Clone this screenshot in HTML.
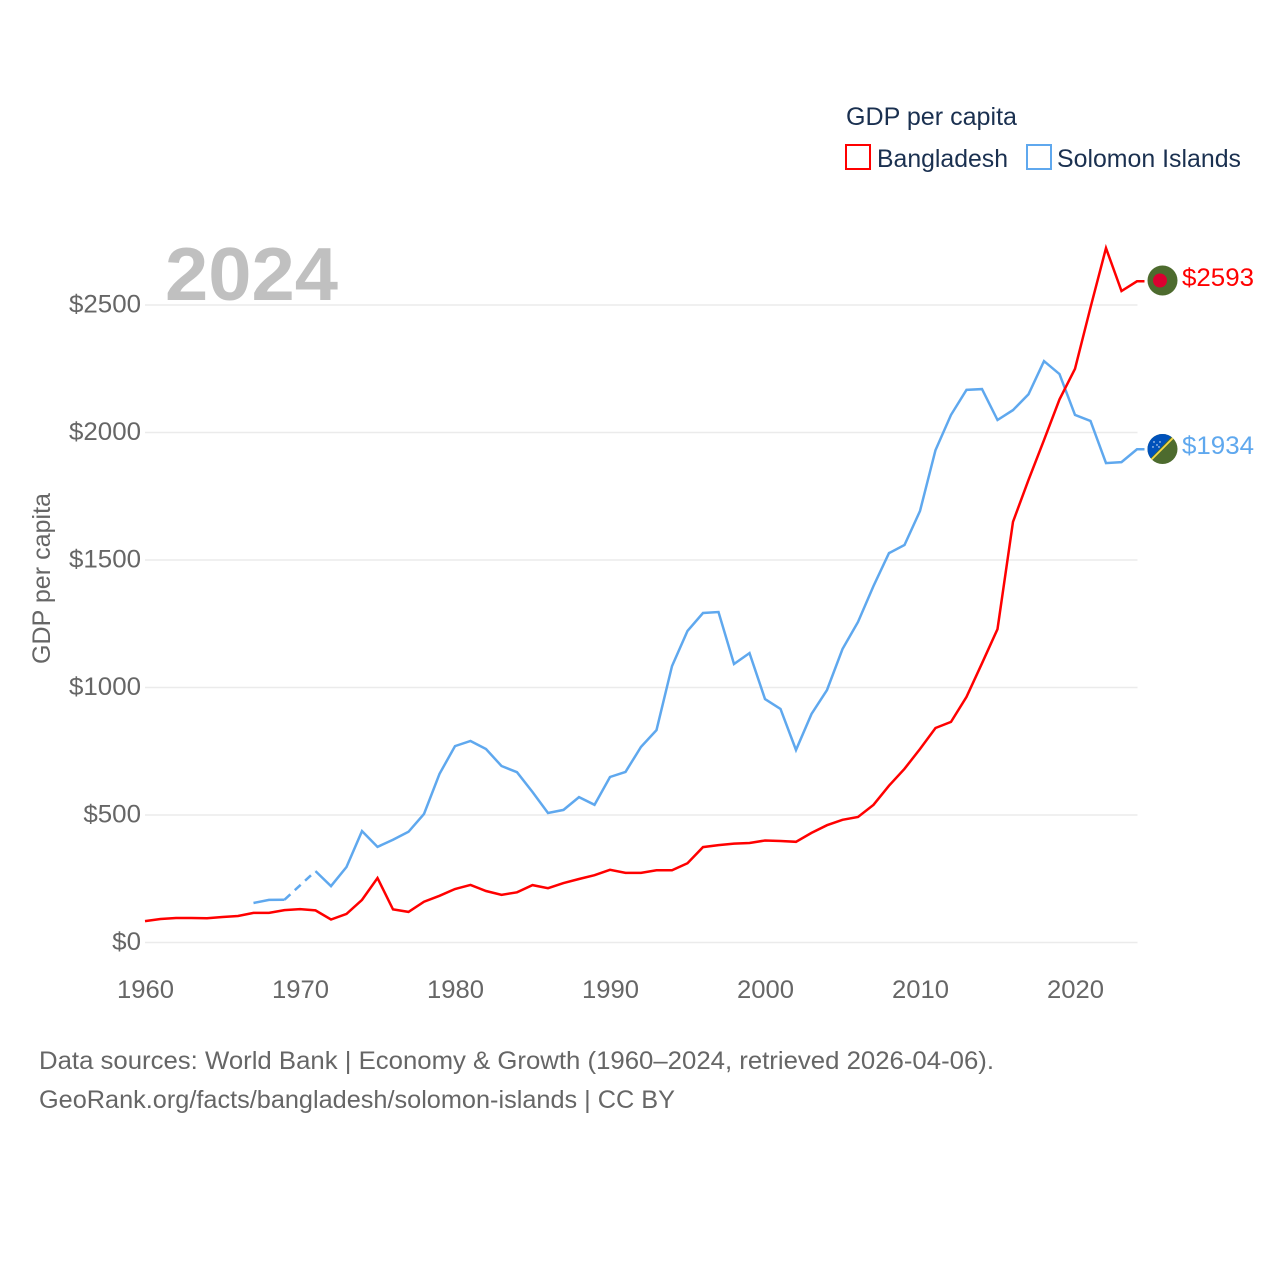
<!DOCTYPE html>
<html lang="en">
<head>
<meta charset="utf-8">
<title>GDP per capita: Bangladesh vs Solomon Islands</title>
<style>
html,body{margin:0;padding:0;background:#fff;width:1280px;height:1280px;overflow:hidden}
svg{display:block}
text{font-family:"Liberation Sans",sans-serif}
</style>
</head>
<body>
<svg id="chart" width="1280" height="1280" viewBox="0 0 1280 1280" xmlns="http://www.w3.org/2000/svg">
  <defs>
    <clipPath id="flag-bd-clip"><circle cx="1162.5" cy="280.5" r="15"/></clipPath>
    <clipPath id="flag-sb-clip"><circle cx="1162.5" cy="449" r="15"/></clipPath>
  </defs>
  <rect width="1280" height="1280" fill="#fff"/>

  <text x="846" y="125" font-size="25" fill="#1a3050" textLength="171" lengthAdjust="spacingAndGlyphs">GDP per capita</text>
  <rect x="846" y="145" width="24" height="24" fill="none" stroke="#ff0000" stroke-width="2"/>
  <text x="877" y="167" font-size="25" fill="#1a3050" textLength="131" lengthAdjust="spacingAndGlyphs">Bangladesh</text>
  <rect x="1027" y="145" width="24" height="24" fill="none" stroke="#5fa8ee" stroke-width="2"/>
  <text x="1057" y="167" font-size="25" fill="#1a3050" textLength="184" lengthAdjust="spacingAndGlyphs">Solomon Islands</text>

  <g id="grid"></g>
  <g id="yticks"></g>
  <g id="xticks"></g>

  <text x="165" y="300" font-size="75" font-weight="bold" fill="#c0c0c0" textLength="173" lengthAdjust="spacingAndGlyphs">2024</text>

  <text transform="translate(50,664) rotate(-90)" font-size="25" fill="#666666" textLength="171" lengthAdjust="spacingAndGlyphs">GDP per capita</text>

  <g id="series"></g>

  <g clip-path="url(#flag-bd-clip)">
    <rect x="1147" y="265" width="31" height="31" fill="#4d6b2e"/>
    <circle cx="1160" cy="280.5" r="7" fill="#dc0030"/>
  </g>
  <g clip-path="url(#flag-sb-clip)">
    <rect x="1147" y="433" width="31" height="32" fill="#4d6b2e"/>
    <polygon points="1147,433 1175,433 1147,462" fill="#0051ba"/>
    <line x1="1148" y1="463" x2="1177" y2="434" stroke="#f5d848" stroke-width="1.8"/>
    <g fill="#fff">
      <circle cx="1154" cy="442" r="0.7"/><circle cx="1160" cy="442" r="0.7"/><circle cx="1157" cy="445" r="0.7"/><circle cx="1153" cy="447" r="0.7"/><circle cx="1159" cy="447" r="0.7"/>
    </g>
  </g>

  <text id="label-bd" x="1182" y="286" font-size="25" fill="#ff0000" textLength="72" lengthAdjust="spacingAndGlyphs"></text>
  <text id="label-sb" x="1182" y="454" font-size="25" fill="#5fa8ee" textLength="72" lengthAdjust="spacingAndGlyphs"></text>

  <text x="39" y="1069" font-size="25" fill="#666666" textLength="955" lengthAdjust="spacingAndGlyphs">Data sources: World Bank | Economy &amp; Growth (1960–2024, retrieved 2026-04-06).</text>
  <text x="39" y="1108" font-size="25" fill="#666666" textLength="636" lengthAdjust="spacingAndGlyphs">GeoRank.org/facts/bangladesh/solomon-islands | CC BY</text>
</svg>
<script>
const startYear = 1960;
const bangladesh = [84,92,96,96,95,100,104,116,116,127,131,126,90,112,167,253,130,120,160,183,210,226,202,187,197,225,213,233,249,264,285,273,273,283,283,311,374,382,388,390,400,398,395,430,460,481,492,540,615,681,759,841,865,963,1095,1229,1650,1814,1970,2130,2250,2490,2723,2555,2593];
const solomonIslands = [null,null,null,null,null,null,null,155,167,168,null,280,221,296,437,375,403,434,504,661,770,790,759,692,668,590,508,520,570,540,649,669,767,833,1084,1222,1292,1296,1092,1135,955,916,755,896,990,1151,1257,1398,1527,1559,1692,1931,2069,2167,2170,2049,2088,2150,2280,2229,2069,2045,1880,1884,1934];
const yTickValues = [0,500,1000,1500,2000,2500];
const xTickYears = [1960,1970,1980,1990,2000,2010,2020];

const NS = 'http://www.w3.org/2000/svg';
const xOf = year => 145 + (year - 1960) * 15.5;
const yOf = value => 942.5 - value * 0.255;
const make = (tag, parent) => { const el = document.createElementNS(NS, tag); parent.appendChild(el); return el; };

const gridG = document.getElementById('grid');
const yG = document.getElementById('yticks');
const xG = document.getElementById('xticks');
const seriesG = document.getElementById('series');

yTickValues.forEach(v => {
  const line = make('line', gridG);
  
  
  line.setAttribute('x1', xOf(1960));
  line.setAttribute('x2', xOf(2024) + 0.5);
  line.setAttribute('y1', yOf(v));
  line.setAttribute('y2', yOf(v));
  line.setAttribute('stroke', '#ebebeb');
  line.setAttribute('stroke-width', '1.5');
  const t = make('text', yG);
  
  
  t.setAttribute('x', 141);
  t.setAttribute('y', yOf(v) + 7.5);
  t.setAttribute('text-anchor', 'end');
  t.setAttribute('font-size', '25');
  t.setAttribute('fill', '#666666');
  t.textContent = '$' + v;
  t.setAttribute('textLength', 14.4 * (String(v).length + 1));
  t.setAttribute('lengthAdjust', 'spacingAndGlyphs');
});

xTickYears.forEach(y => {
  const t = make('text', xG);
  
  
  t.setAttribute('x', xOf(y) + 0.5);
  t.setAttribute('y', 998);
  t.setAttribute('text-anchor', 'middle');
  t.setAttribute('font-size', '25');
  t.setAttribute('fill', '#666666');
  t.setAttribute('textLength', 57);
  t.setAttribute('lengthAdjust', 'spacingAndGlyphs');
  t.textContent = y;
});

function drawSeries(values, color, name) {
  let solid = '';
  let dashed = '';
  let prevIdx = -1;
  values.forEach((v, i) => {
    if (v === null) return;
    const pt = xOf(startYear + i).toFixed(1) + ' ' + yOf(v).toFixed(1);
    if (prevIdx === -1) {
      solid += 'M' + pt;
    } else if (i - prevIdx > 1) {
      dashed += 'M' + xOf(startYear + prevIdx).toFixed(1) + ' ' + yOf(values[prevIdx]).toFixed(1) + 'L' + pt;
      solid += 'M' + pt;
    } else {
      solid += 'L' + pt;
    }
    prevIdx = i;
  });
  const last = values[values.length - 1];
  const lastYear = startYear + values.length - 1;
  solid += 'L' + (xOf(lastYear) + 7.5).toFixed(1) + ' ' + yOf(last).toFixed(1);
  const p = make('path', seriesG);
  
  
  p.setAttribute('d', solid);
  p.setAttribute('fill', 'none');
  p.setAttribute('stroke', color);
  p.setAttribute('stroke-width', '2.5');
  p.setAttribute('stroke-linejoin', 'miter');
  if (dashed) {
    const d = make('path', seriesG);
    
    
    d.setAttribute('d', dashed);
    d.setAttribute('fill', 'none');
    d.setAttribute('stroke', color);
    d.setAttribute('stroke-width', '2.5');
    d.setAttribute('stroke-dasharray', '8 6');
  }
}

drawSeries(solomonIslands, '#5fa8ee', 'solomon-islands');
drawSeries(bangladesh, '#ff0000', 'bangladesh');

document.getElementById('label-bd').textContent = '$' + bangladesh[bangladesh.length - 1];
document.getElementById('label-sb').textContent = '$' + solomonIslands[solomonIslands.length - 1];
</script>
</body>
</html>
